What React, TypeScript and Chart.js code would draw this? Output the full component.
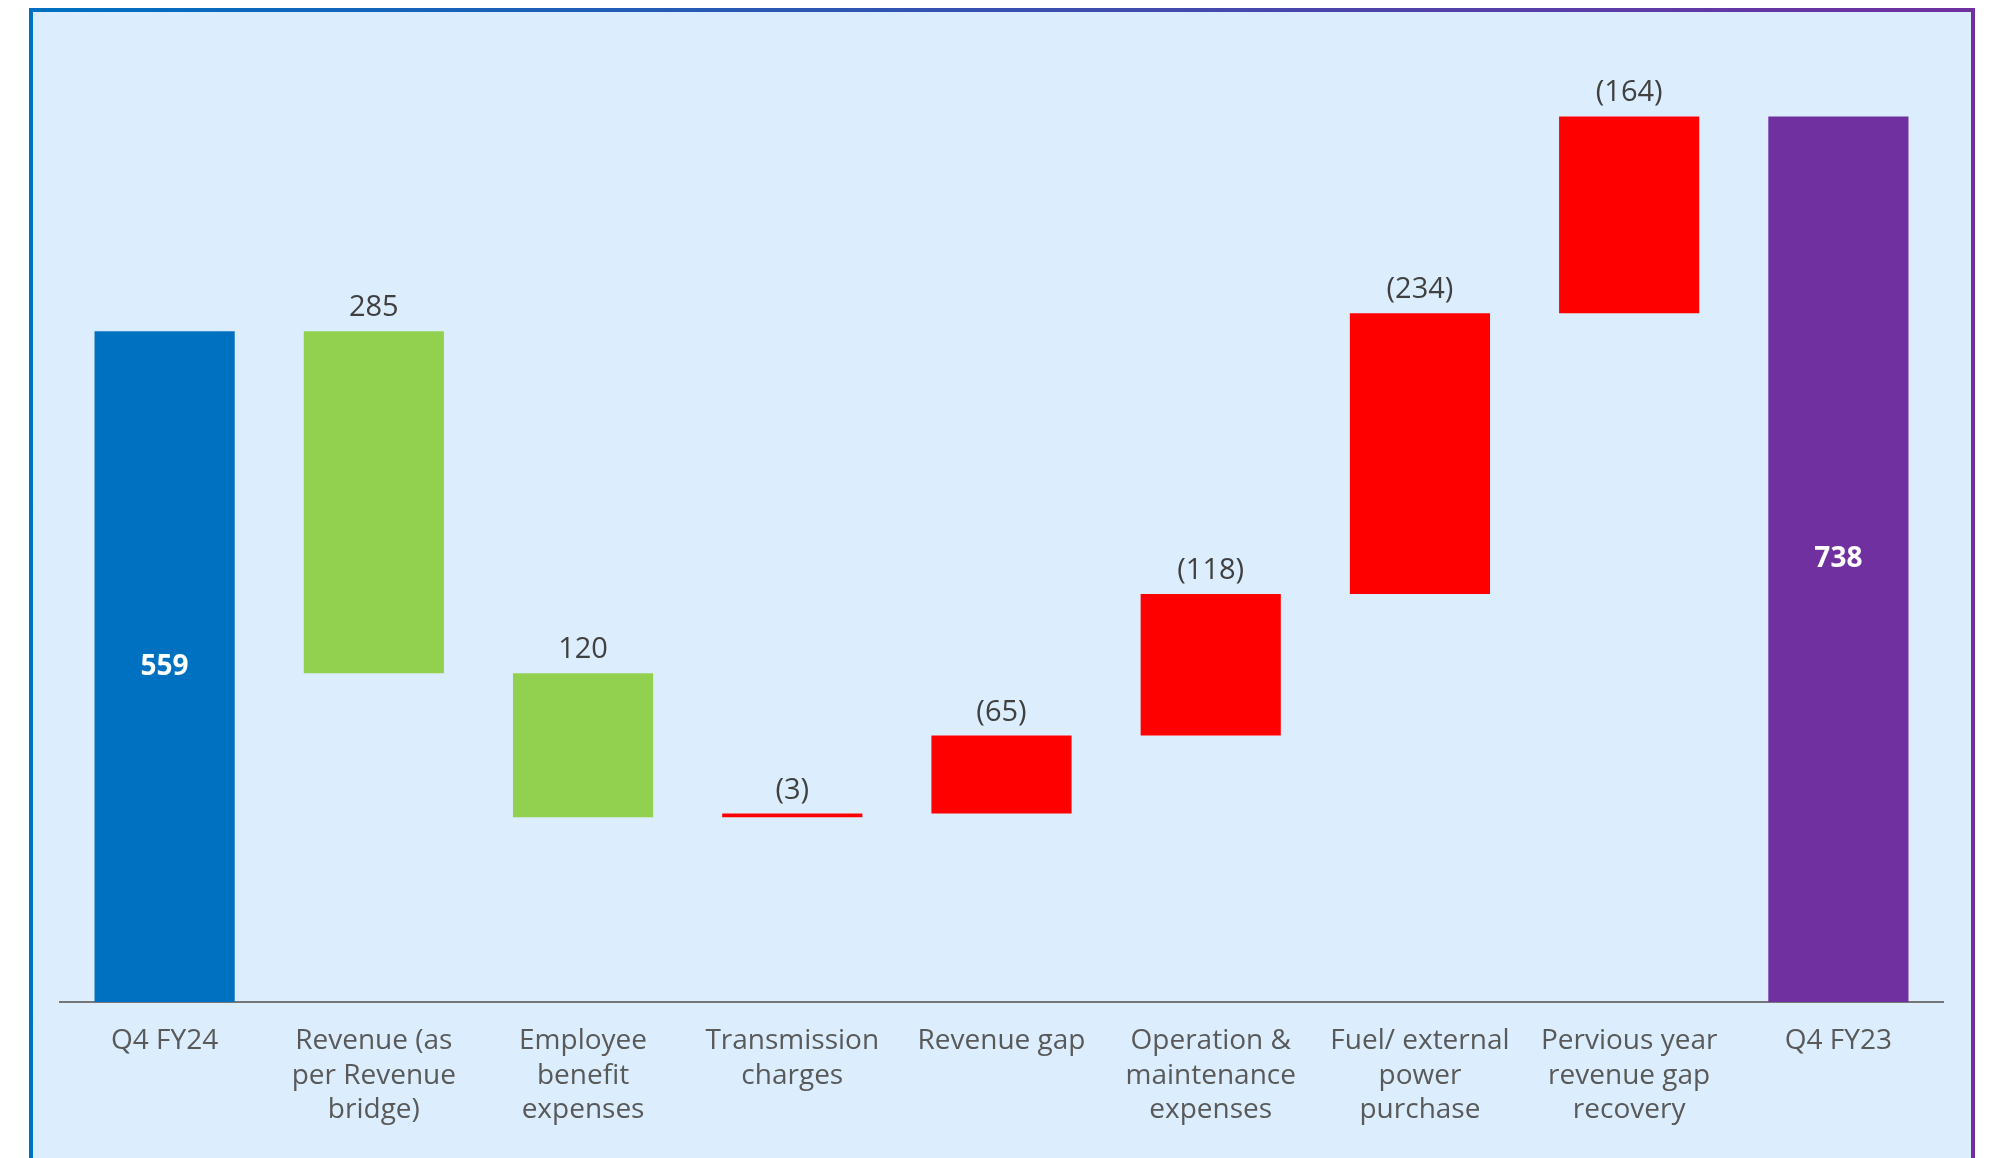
import React, { useEffect, useRef } from "react";
import { Chart, registerables } from "chart.js";

Chart.register(...registerables);

const categories: (string | string[])[] = [
  "Q4 FY24",
  ["Revenue (as", "per Revenue", "bridge)"],
  ["Employee", "benefit", "expenses"],
  ["Transmission", "charges"],
  "Revenue gap",
  ["Operation &", "maintenance", "expenses"],
  ["Fuel/ external", "power", "purchase"],
  ["Pervious year", "revenue gap", "recovery"],
  "Q4 FY23",
];

const startTotal = 559;
const endTotal = 738;
// impacts as displayed: positive shown plain (green), negative shown in brackets (red)
const impacts = [285, 120, -3, -65, -118, -234, -164];

const colorStart = "#0070C0";
const colorEnd = "#7030A0";
const colorPos = "#92D050";
const colorNeg = "#FF0000";

function buildBars() {
  const bars: [number, number][] = [[0, startTotal]];
  let level = startTotal;
  impacts.forEach((v) => {
    const next = level - v;
    bars.push([Math.min(level, next), Math.max(level, next)]);
    level = next;
  });
  bars.push([0, endTotal]);
  return bars;
}

function labelText(i: number): string {
  if (i === 0) return String(startTotal);
  if (i === categories.length - 1) return String(endTotal);
  const v = impacts[i - 1];
  return v >= 0 ? String(v) : `(${Math.abs(v)})`;
}

const labelPlugin = {
  id: "wfLabels",
  afterDatasetsDraw(chart: any) {
    const meta = chart.getDatasetMeta(0);
    const ctx = chart.ctx;
    ctx.save();
    meta.data.forEach((bar: any, i: number) => {
      const p = bar.getProps(["x", "y", "base"], true);
      const top = Math.min(p.y, p.base);
      const bottom = Math.max(p.y, p.base);
      const txt = labelText(i);
      if (i === 0 || i === categories.length - 1) {
        ctx.font = "bold 28px 'Open Sans'";
        ctx.fillStyle = "#FFFFFF";
        ctx.textAlign = "center";
        ctx.textBaseline = "middle";
        ctx.fillText(txt, p.x, (top + bottom) / 2);
      } else {
        ctx.font = "29px 'Open Sans'";
        ctx.fillStyle = "#404040";
        ctx.textAlign = "center";
        ctx.textBaseline = "alphabetic";
        ctx.fillText(txt, p.x, top - 15);
      }
    });
    ctx.restore();
  },
};

export default function App() {
  const ref = useRef<HTMLCanvasElement | null>(null);

  useEffect(() => {
    if (!ref.current) return;
    const bars = buildBars();
    const colors = bars.map((_, i) => {
      if (i === 0) return colorStart;
      if (i === bars.length - 1) return colorEnd;
      return impacts[i - 1] >= 0 ? colorPos : colorNeg;
    });
    const chart = new Chart(ref.current, {
      type: "bar",
      data: {
        labels: categories as any,
        datasets: [
          {
            data: bars as any,
            backgroundColor: colors,
            borderWidth: 0,
            borderSkipped: false,
            barPercentage: 0.67,
            categoryPercentage: 1,
          },
        ],
      },
      options: {
        responsive: false,
        animation: false,
        devicePixelRatio: 1,
        layout: { padding: { left: 60, right: 55, top: 42, bottom: 0 } },
        plugins: {
          legend: { display: false },
          tooltip: { enabled: false },
          title: { display: false },
        },
        scales: {
          x: {
            grid: { display: false, drawTicks: false },
            border: { display: true, color: "#767676", width: 2 },
            ticks: {
              color: "#595959",
              font: { family: "'Open Sans'", size: 28, lineHeight: 1.23 },
              padding: 22,
              autoSkip: false,
              maxRotation: 0,
              minRotation: 0,
            },
            afterFit: (scale: any) => {
              scale.height = 156;
            },
          },
          y: {
            display: false,
            min: 0,
            max: 800,
          },
        },
      },
      plugins: [labelPlugin],
    });
    return () => chart.destroy();
  }, []);

  return (
    <div>
      <div
        style={{
          position: "fixed",
          left: 29,
          top: 8,
          width: 1946,
          height: 1150,
          background: "linear-gradient(to right, #0070C0, #7030A0)",
          padding: "4px 4px 0 4px",
          boxSizing: "border-box",
        }}
      >
        <div style={{ width: "100%", height: "100%", background: "#DCEEFD" }} />
      </div>
      <canvas
        ref={ref}
        width={1998}
        height={1158}
        style={{ position: "fixed", left: 0, top: 0, width: 1998, height: 1158 }}
      />
    </div>
  );
}
